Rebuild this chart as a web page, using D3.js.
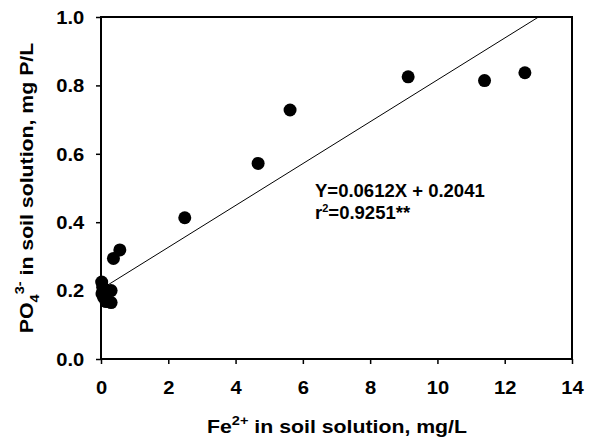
<!DOCTYPE html>
<html><head><meta charset="utf-8">
<script src="https://cdn.jsdelivr.net/npm/d3@7"></script>
<style>
body{margin:0;background:#fff;}
text{font-family:"Liberation Sans",Arial,sans-serif;font-weight:bold;fill:#000;}
</style></head>
<body><svg id="c" width="594" height="440"></svg>
<script>
const feValues = [0.02, 0.05, 0.10, 0.08, 0.30, 0.15, 0.30, 0.03, 0.37, 0.56, 2.49, 4.67, 5.62, 9.13, 11.40, 12.60];
const po4Values = [0.225, 0.210, 0.195, 0.180, 0.200, 0.168, 0.165, 0.190, 0.294, 0.319, 0.413, 0.572, 0.728, 0.825, 0.814, 0.837];
const xTicks = [0, 2, 4, 6, 8, 10, 12, 14];
const yTicks = [0.0, 0.2, 0.4, 0.6, 0.8, 1.0];
const slope = [0.0612];
const intercept = [0.2041];
const eqLabels = ["Y=0.0612X + 0.2041", "r", "2", "=0.9251**"];

const svg = d3.select("#c");
const L = 101, R = 572, T = 17, B = 359;
const x = d3.scaleLinear().domain([0, 14]).range([L, R]);
const y = d3.scaleLinear().domain([0, 1]).range([B, T]);

// axes
const xa = svg.append("g").attr("transform", `translate(0,${B})`)
  .call(d3.axisBottom(x).tickValues(xTicks).tickSize(5).tickSizeOuter(0).tickFormat(d3.format("d")));
const ya = svg.append("g").attr("transform", `translate(${L},0)`)
  .call(d3.axisLeft(y).tickValues(yTicks).tickSize(5).tickSizeOuter(0).tickFormat(d3.format(".1f")));
[xa, ya].forEach(g => {
  g.select(".domain").remove();
  g.selectAll("line").attr("stroke", "#000").attr("stroke-width", 1.5);
  g.selectAll("text").style("font-size", "18px").style("font-family", "Liberation Sans, Arial, sans-serif").style("font-weight", "bold");
});
xa.selectAll("text").attr("y", 35).attr("dy", null).attr("transform", "scale(1.12,1)");
ya.selectAll("text").attr("x", -15).attr("dy", "0.35em").attr("transform", "scale(1.12,1)");

// frame
svg.append("rect").attr("x", L).attr("y", T).attr("width", R - L).attr("height", B - T)
  .attr("fill", "none").attr("stroke", "#000").attr("stroke-width", 2);

// regression line
const xEnd = (1 - intercept[0]) / slope[0];
svg.append("line")
  .attr("x1", x(0)).attr("y1", y(intercept[0]))
  .attr("x2", x(xEnd)).attr("y2", y(slope[0] * xEnd + intercept[0]))
  .attr("stroke", "#000").attr("stroke-width", 1);

// points
svg.append("g").selectAll("circle").data(feValues.map((v, i) => [v, po4Values[i]]))
  .join("circle").attr("cx", d => x(d[0])).attr("cy", d => y(d[1])).attr("r", 6.5).attr("fill", "#000");

// equation
svg.append("text").attr("x", 315).attr("y", 197).style("font-size", "18.5px").text(eqLabels[0]);
const t2 = svg.append("text").attr("x", 315).attr("y", 219).style("font-size", "18.5px");
t2.append("tspan").text(eqLabels[1]);
t2.append("tspan").attr("dy", -7).style("font-size", "11px").text(eqLabels[2]);
t2.append("tspan").attr("dy", 7).text(eqLabels[3]);

// x title
const xt = svg.append("text").attr("transform", "translate(337,433) scale(1.12,1)").attr("text-anchor", "middle").style("font-size", "19px");
xt.append("tspan").text("Fe");
xt.append("tspan").attr("dy", -8).style("font-size", "13px").text("2+");
xt.append("tspan").attr("dy", 8).text(" in soil solution, mg/L");

// y title
const yt = svg.append("text").attr("transform", "translate(33,188) rotate(-90) scale(1.12,1)").attr("text-anchor", "middle").style("font-size", "19px");
yt.append("tspan").text("PO");
yt.append("tspan").attr("dy", 6).style("font-size", "13px").text("4");
yt.append("tspan").attr("dy", -15).style("font-size", "13px").text("3-");
yt.append("tspan").attr("dy", 9).text(" in soil solution, mg P/L");
</script></body></html>
